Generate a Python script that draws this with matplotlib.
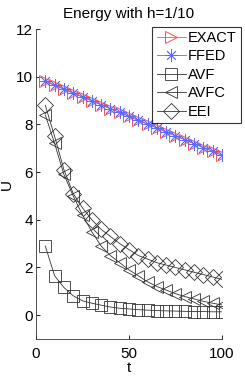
import matplotlib
matplotlib.use("Agg")
import matplotlib.pyplot as plt

t = [5, 10, 15, 20, 25, 30, 35, 40, 45, 50, 55, 60, 65, 70, 75, 80, 85, 90, 95, 100]
exact = [9.80, 9.64, 9.48, 9.31, 9.15, 8.99, 8.82, 8.66, 8.50, 8.34,
         8.17, 8.01, 7.85, 7.68, 7.52, 7.36, 7.19, 7.03, 6.87, 6.70]
ffed = [9.82, 9.65, 9.48, 9.31, 9.15, 8.99, 8.82, 8.66, 8.50, 8.34,
        8.17, 8.01, 7.85, 7.68, 7.52, 7.36, 7.19, 7.03, 6.87, 6.70]
avf = [2.9, 1.65, 1.16, 0.81, 0.60, 0.50, 0.42, 0.34, 0.29, 0.26,
       0.23, 0.21, 0.19, 0.18, 0.17, 0.16, 0.15, 0.15, 0.14, 0.14]
avfc = [8.4, 7.2, 5.9, 5.0, 4.2, 3.5, 2.9, 2.5, 2.2, 1.9,
        1.65, 1.4, 1.2, 1.05, 0.9, 0.78, 0.68, 0.58, 0.5, 0.43]
eei = [8.8, 7.5, 6.1, 5.1, 4.5, 4.0, 3.6, 3.3, 3.0, 2.75,
       2.5, 2.35, 2.2, 2.1, 2.0, 1.9, 1.8, 1.7, 1.6, 1.5]

labels = ["EXACT", "FFED", "AVF", "AVFC", "EEI"]
xticks = [0, 50, 100]
yticks = [0, 2, 4, 6, 8, 10, 12]

plt.rcParams['font.family'] = ['Liberation Sans', 'DejaVu Sans']

fig = plt.figure(figsize=(2.45, 3.82), dpi=100)
ax = fig.add_axes([0.147, 0.1126, 0.759, 0.8114])

lw = 0.6
ax.plot(t, exact, color='#ff5050', marker='>', ms=9, mfc='none', mew=0.7,
        lw=lw, label=labels[0])
ax.plot(t, ffed, color='#5a6cff', marker=(8, 2, 0), ms=9, mfc='none', mew=0.6,
        lw=lw, label=labels[1])
ax.plot(t, avf, color='#333333', marker='s', ms=8, mfc='none', mew=0.6,
        lw=lw, label=labels[2])
ax.plot(t, avfc, color='#333333', marker='<', ms=9, mfc='none', mew=0.6,
        lw=lw, label=labels[3])
ax.plot(t, eei, color='#333333', marker='D', ms=8, mfc='none', mew=0.6,
        lw=lw, label=labels[4])

ax.set_xlim(0, 100)
ax.set_ylim(-1, 12)
ax.set_xticks(xticks)
ax.set_yticks(yticks)
ax.tick_params(direction='in', length=3, width=0.6, labelsize=11)
ax.tick_params(axis='x', pad=6)
ax.tick_params(axis='y', pad=2)
for s in ['top', 'right']:
    ax.spines[s].set_visible(False)
for s in ['left', 'bottom']:
    ax.spines[s].set_linewidth(0.6)
    ax.spines[s].set_color('#333333')

ax.set_xlabel('t', fontsize=11, labelpad=0)
ax.set_ylabel('U', fontsize=11, labelpad=2)
ax.set_title('Energy with h=1/10', fontsize=11, pad=8)

leg = ax.legend(loc='upper right', bbox_to_anchor=(0.985, 0.93),
                bbox_transform=fig.transFigure, fontsize=10.5,
                frameon=True, fancybox=False, edgecolor='black',
                handlelength=2.0, handletextpad=0.15, borderpad=0.3,
                labelspacing=0.3, borderaxespad=0)
leg.get_frame().set_linewidth(0.8)

fig.savefig('out.png', dpi=100)
